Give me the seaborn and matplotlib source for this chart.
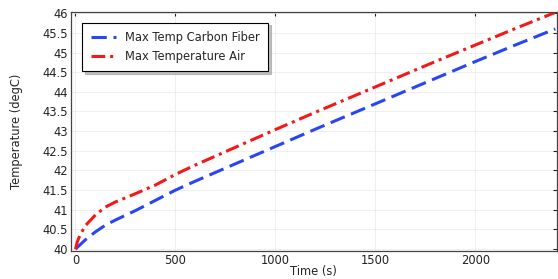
import matplotlib
matplotlib.use("Agg")
import matplotlib.pyplot as plt
from matplotlib.ticker import FormatStrFormatter, MultipleLocator
import seaborn as sns
import pandas as pd

# time points (s) and the two temperature curves
time_s = [0, 10, 25, 50, 100, 150, 200, 300, 400, 500, 600, 800,
          1000, 1200, 1400, 1600, 1800, 2000, 2200, 2400]
temp_fiber = [40.00, 40.05, 40.12, 40.24, 40.44, 40.61, 40.74, 40.98, 41.24, 41.50,
              41.73, 42.17, 42.61, 43.05, 43.48, 43.91, 44.34, 44.77, 45.19, 45.60]
temp_air = [40.00, 40.20, 40.38, 40.60, 40.87, 41.07, 41.20, 41.41, 41.63, 41.90,
            42.14, 42.59, 43.04, 43.48, 43.91, 44.34, 44.77, 45.19, 45.61, 46.02]
labels = ["Max Temp Carbon Fiber", "Max Temperature Air"]

df = pd.DataFrame({"time": time_s * 2,
                   "temp": temp_fiber + temp_air,
                   "series": [labels[0]] * len(time_s) + [labels[1]] * len(time_s)})

sns.set_style("white")
plt.rcParams["font.family"] = ["DejaVu Sans"]

fig = plt.figure(figsize=(5.58, 2.79), dpi=100)
ax = fig.add_axes([0.127, 0.100, 0.871, 0.857])

sns.lineplot(data=df, x="time", y="temp", hue="series", style="series",
             palette=["#2846f5", "#f51818"],
             dashes=[(5, 2.2), (4.5, 1.6, 1, 1.6)],
             linewidth=2.2, ax=ax, legend=True)

ax.set_xlim(-23, 2408)
ax.set_ylim(39.95, 46.03)
ax.xaxis.set_major_locator(MultipleLocator(500))
ax.yaxis.set_major_locator(MultipleLocator(0.5))
ax.yaxis.set_major_formatter(FormatStrFormatter("%g"))
ax.grid(True, color="#ececec", linewidth=0.6)
ax.tick_params(direction="in", length=3, width=0.8, labelsize=8.3,
               top=True, right=True, pad=2, colors="#222222")
for sp in ax.spines.values():
    sp.set_color("#444444")
    sp.set_linewidth(0.9)

ax.set_xlabel("Time (s)", fontsize=8.3, labelpad=-1.5)
ax.set_ylabel("Temperature (degC)", fontsize=8.3, labelpad=14)

leg = ax.legend(loc="upper left", bbox_to_anchor=(0.012, 0.98), fontsize=8.3,
                frameon=True, fancybox=False, shadow={"color": "#999999", "alpha": 0.6},
                handlelength=2.2, borderpad=0.7, labelspacing=0.55)
leg.get_frame().set_edgecolor("black")
leg.get_frame().set_linewidth(0.8)

fig.savefig("out.png", dpi=100)
